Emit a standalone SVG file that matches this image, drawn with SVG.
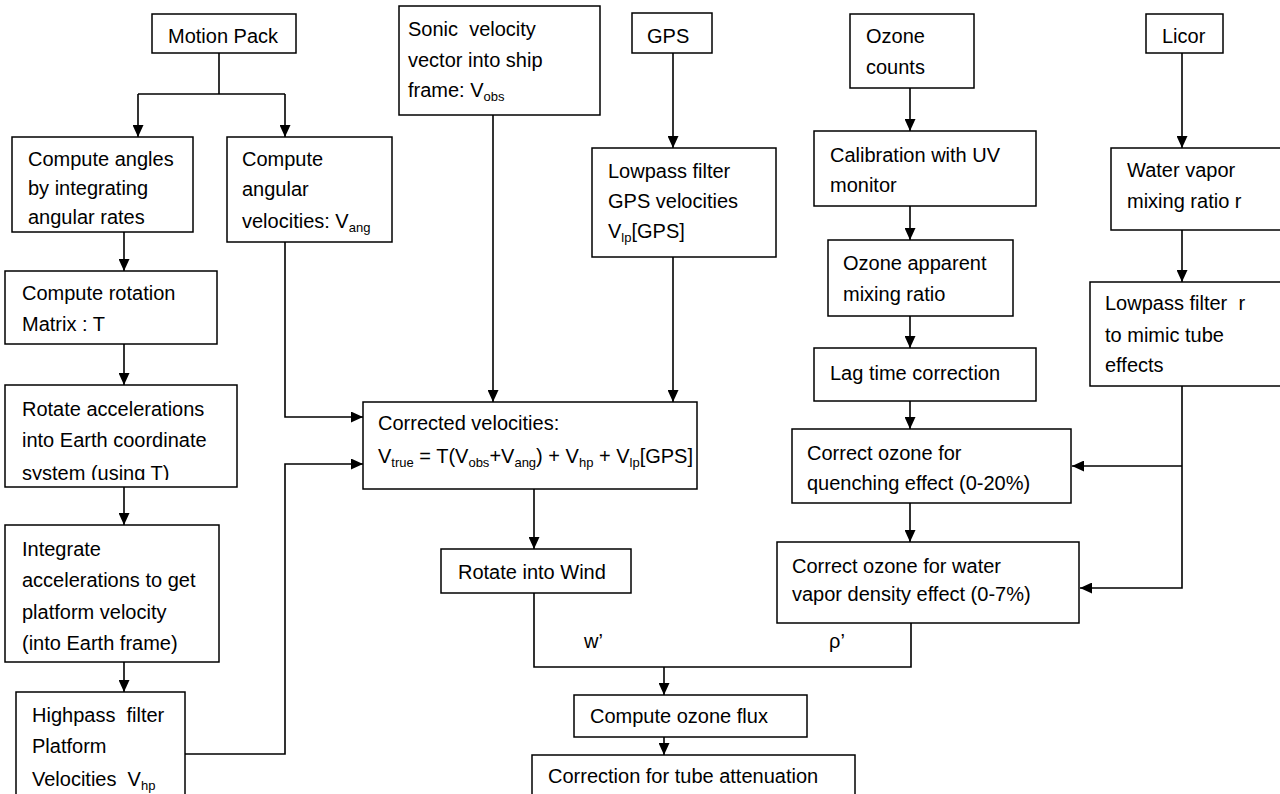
<svg xmlns="http://www.w3.org/2000/svg" width="1280" height="794" viewBox="0 0 1280 794">
<style>
.b{fill:#fff;stroke:#000;stroke-width:1.5}
.t{font-family:"Liberation Sans",Arial,sans-serif;font-size:20px;fill:#000}
.c{fill:none;stroke:#000;stroke-width:1.6}
.s{font-size:13px}
</style>
<defs>
<marker id="ah" viewBox="0 0 12 11" refX="12" refY="5.5" markerWidth="12" markerHeight="11" markerUnits="userSpaceOnUse" orient="auto">
<path d="M0,0 L12,5.5 L0,11 z" fill="#000"/>
</marker>
<clipPath id="clipRot"><rect x="5" y="385" width="232" height="95"/></clipPath>
</defs>
<rect width="1280" height="794" fill="#fff"/>

<g id="connectors">
<path class="c" d="M219,53 V94"/>
<path class="c" d="M138,94 H285"/>
<path class="c" d="M138,94 V137" marker-end="url(#ah)"/>
<path class="c" d="M285,94 V137" marker-end="url(#ah)"/>
<path class="c" d="M124,232 V271" marker-end="url(#ah)"/>
<path class="c" d="M124,344 V385" marker-end="url(#ah)"/>
<path class="c" d="M124,487 V525" marker-end="url(#ah)"/>
<path class="c" d="M124,662 V692" marker-end="url(#ah)"/>
<path class="c" d="M285,242 V417 H363" marker-end="url(#ah)"/>
<path class="c" d="M185,754 H285 V464 H363" marker-end="url(#ah)"/>
<path class="c" d="M493,115 V402" marker-end="url(#ah)"/>
<path class="c" d="M673,53 V148" marker-end="url(#ah)"/>
<path class="c" d="M673,257 V402" marker-end="url(#ah)"/>
<path class="c" d="M534,489 V549" marker-end="url(#ah)"/>
<path class="c" d="M534,593 V667 H911 V623"/>
<path class="c" d="M664,667 V695" marker-end="url(#ah)"/>
<path class="c" d="M664,737 V755" marker-end="url(#ah)"/>
<path class="c" d="M910,88 V131" marker-end="url(#ah)"/>
<path class="c" d="M910,206 V240" marker-end="url(#ah)"/>
<path class="c" d="M910,316 V348" marker-end="url(#ah)"/>
<path class="c" d="M910,401 V429" marker-end="url(#ah)"/>
<path class="c" d="M910,503 V542" marker-end="url(#ah)"/>
<path class="c" d="M1182,53 V148" marker-end="url(#ah)"/>
<path class="c" d="M1182,230 V282" marker-end="url(#ah)"/>
<path class="c" d="M1182,386 V588 H1080" marker-end="url(#ah)"/>
<path class="c" d="M1182,466 H1072" marker-end="url(#ah)"/>
<text class="t" x="584" y="648">w’</text>
<text class="t" x="829" y="648">ρ’</text>
</g>

<g id="motion-pack">
<rect class="b" x="152" y="14" width="144" height="39"/>
<text class="t" x="168" y="43">Motion Pack</text>
</g>

<g id="compute-angles">
<rect class="b" x="12" y="137" width="181" height="95"/>
<text class="t" x="28" y="166">Compute angles</text>
<text class="t" x="28" y="195">by integrating</text>
<text class="t" x="28" y="224">angular rates</text>
</g>

<g id="compute-angular-velocities">
<rect class="b" x="227" y="137" width="165" height="105"/>
<text class="t" x="242" y="166">Compute</text>
<text class="t" x="242" y="196">angular</text>
<text class="t" x="242" y="228">velocities: V<tspan class="s" dy="4">ang</tspan></text>
</g>

<g id="compute-rotation">
<rect class="b" x="5" y="271" width="212" height="73"/>
<text class="t" x="22" y="300">Compute rotation</text>
<text class="t" x="22" y="331">Matrix : T</text>
</g>

<g id="rotate-accelerations">
<rect class="b" x="5" y="385" width="232" height="102"/>
<text class="t" x="22" y="416">Rotate accelerations</text>
<text class="t" x="22" y="447">into Earth coordinate</text>
<text class="t" x="22" y="480" clip-path="url(#clipRot)">system (using T)</text>
</g>

<g id="integrate">
<rect class="b" x="5" y="525" width="214" height="137"/>
<text class="t" x="22" y="556">Integrate</text>
<text class="t" x="22" y="587">accelerations to get</text>
<text class="t" x="22" y="619">platform velocity</text>
<text class="t" x="22" y="650">(into Earth frame)</text>
</g>

<g id="highpass">
<rect class="b" x="16" y="692" width="169" height="120"/>
<text class="t" x="32" y="722">Highpass&#160; filter</text>
<text class="t" x="32" y="753">Platform</text>
<text class="t" x="32" y="786">Velocities&#160; V<tspan class="s" dy="4">hp</tspan></text>
</g>

<g id="sonic">
<rect class="b" x="399" y="6" width="201" height="109"/>
<text class="t" x="408" y="36">Sonic&#160; velocity</text>
<text class="t" x="408" y="67">vector into ship</text>
<text class="t" x="408" y="97">frame: V<tspan class="s" dy="4">obs</tspan></text>
</g>

<g id="gps">
<rect class="b" x="632" y="13" width="80" height="40"/>
<text class="t" x="647" y="43">GPS</text>
</g>

<g id="lowpass-gps">
<rect class="b" x="592" y="148" width="184" height="109"/>
<text class="t" x="608" y="178">Lowpass filter</text>
<text class="t" x="608" y="208">GPS velocities</text>
<text class="t" x="608" y="238">V<tspan class="s" dy="4">lp</tspan><tspan dy="-4">[GPS]</tspan></text>
</g>

<g id="corrected-velocities">
<rect class="b" x="363" y="402" width="334" height="87"/>
<text class="t" x="378" y="430">Corrected velocities:</text>
<text class="t" x="378" y="463">V<tspan class="s" dy="4">true</tspan><tspan dy="-4"> = T(V</tspan><tspan class="s" dy="4">obs</tspan><tspan dy="-4">+V</tspan><tspan class="s" dy="4">ang</tspan><tspan dy="-4">) + V</tspan><tspan class="s" dy="4">hp</tspan><tspan dy="-4"> + V</tspan><tspan class="s" dy="4">lp</tspan><tspan dy="-4">[GPS]</tspan></text>
</g>

<g id="rotate-wind">
<rect class="b" x="441" y="549" width="190" height="44"/>
<text class="t" x="458" y="579">Rotate into Wind</text>
</g>

<g id="ozone-flux">
<rect class="b" x="574" y="695" width="233" height="42"/>
<text class="t" x="590" y="723">Compute ozone flux</text>
</g>

<g id="tube-attenuation">
<rect class="b" x="532" y="755" width="323" height="60"/>
<text class="t" x="548" y="783">Correction for tube attenuation</text>
</g>

<g id="ozone-counts">
<rect class="b" x="850" y="14" width="124" height="74"/>
<text class="t" x="866" y="43">Ozone</text>
<text class="t" x="866" y="74">counts</text>
</g>

<g id="calibration">
<rect class="b" x="814" y="131" width="222" height="75"/>
<text class="t" x="830" y="162">Calibration with UV</text>
<text class="t" x="830" y="192">monitor</text>
</g>

<g id="ozone-apparent">
<rect class="b" x="828" y="240" width="185" height="76"/>
<text class="t" x="843" y="270">Ozone apparent</text>
<text class="t" x="843" y="301">mixing ratio</text>
</g>

<g id="lag-time">
<rect class="b" x="814" y="348" width="222" height="53"/>
<text class="t" x="830" y="380">Lag time correction</text>
</g>

<g id="quenching">
<rect class="b" x="792" y="429" width="279" height="74"/>
<text class="t" x="807" y="460">Correct ozone for</text>
<text class="t" x="807" y="490">quenching effect (0-20%)</text>
</g>

<g id="water-density">
<rect class="b" x="777" y="542" width="302" height="81"/>
<text class="t" x="792" y="573">Correct ozone for water</text>
<text class="t" x="792" y="601">vapor density effect (0-7%)</text>
</g>

<g id="licor">
<rect class="b" x="1146" y="14" width="77" height="39"/>
<text class="t" x="1162" y="43">Licor</text>
</g>

<g id="water-vapor">
<rect class="b" x="1111" y="148" width="200" height="82"/>
<text class="t" x="1127" y="177">Water vapor</text>
<text class="t" x="1127" y="208">mixing ratio r</text>
</g>

<g id="lowpass-r">
<rect class="b" x="1090" y="282" width="220" height="104"/>
<text class="t" x="1105" y="310">Lowpass filter&#160; r</text>
<text class="t" x="1105" y="342">to mimic tube</text>
<text class="t" x="1105" y="372">effects</text>
</g>
</svg>
